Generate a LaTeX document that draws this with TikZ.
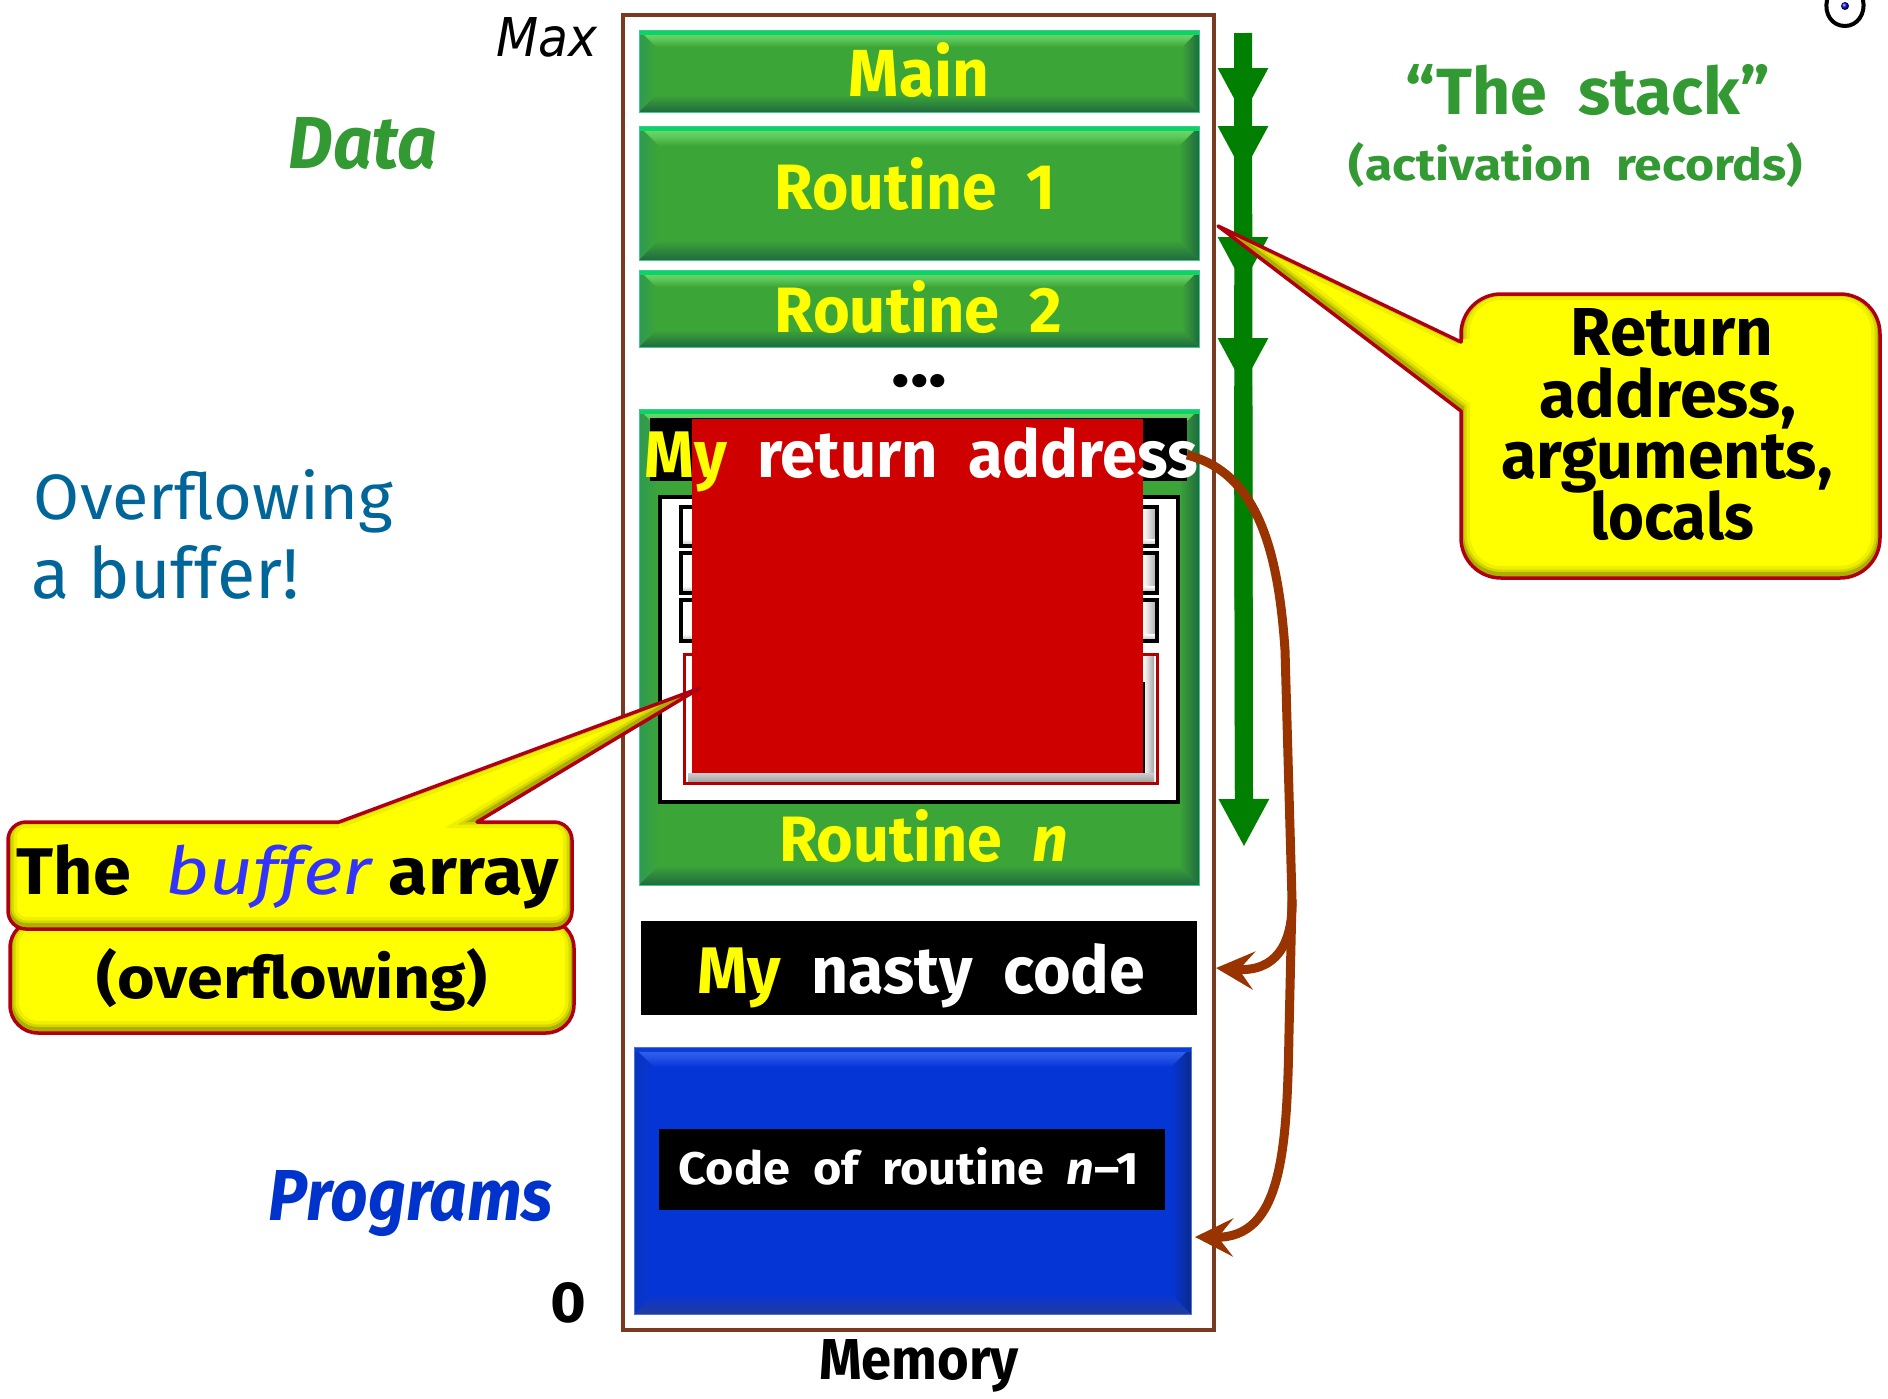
\documentclass[tikz,border=0pt]{standalone}
\usepackage{fontspec}
\usepackage{graphicx}
\usetikzlibrary{arrows.meta,shadings}
\setmainfont{Fira Sans}
\newfontfamily\verd{DejaVu Sans}
\definecolor{yel}{HTML}{FFFF00}
\definecolor{grbase}{HTML}{3CA538}
\definecolor{gredge}{HTML}{08D565}
\definecolor{grlight}{HTML}{74E274}
\definecolor{grleft}{HTML}{2E9A50}
\definecolor{grright}{HTML}{1F6B3F}
\definecolor{grbot}{HTML}{1F6B3F}
\definecolor{grline}{HTML}{40C890}
\definecolor{blbase}{HTML}{0635D6}
\definecolor{bledge}{HTML}{0A3CD8}
\definecolor{bllight}{HTML}{3A68F0}
\definecolor{blleft}{HTML}{0A35C0}
\definecolor{blright}{HTML}{0A2A8C}
\definecolor{blbot}{HTML}{213C9C}
\definecolor{blline}{HTML}{5070D8}
\definecolor{framec}{HTML}{7A3A20}
\definecolor{arrowg}{HTML}{007F00}
\definecolor{brownc}{HTML}{993300}
\definecolor{redc}{HTML}{CF0000}
\definecolor{stackg}{HTML}{339933}
\definecolor{tealc}{HTML}{006699}
\definecolor{progb}{HTML}{0033CC}
\definecolor{bufb}{HTML}{3333FF}
\definecolor{callb}{HTML}{B00010}
\tikzset{
  lab/.style={anchor=base,inner sep=0pt,outer sep=0pt},
  brownline/.style={draw=brownc,line width=9pt,-{Stealth[length=38pt,width=38pt,inset=15pt]}},
  greenshaft/.style={draw=arrowg,line width=18pt},
  greenarrow/.style={draw=arrowg,line width=18pt,-{Triangle[length=48pt,width=47pt]}},
}
\newcommand\txt[7]{\node[lab,#6] (#1) at (#2,#3) {\resizebox{#4pt}{#5pt}{#7}};}
\newcommand\bevelbox[6]{%
  \fill[#6base] (#1,#2) rectangle (#3,#4);
  \shade[left color=#6left,right color=#6base] (#1,#2) -- ({#1+#5},{#2+#5}) -- ({#1+#5},{#4-#5}) -- (#1,#4) -- cycle;
  \shade[left color=#6base,right color=#6right] (#3,#2) -- ({#3-#5},{#2+#5}) -- ({#3-#5},{#4-#5}) -- (#3,#4) -- cycle;
  \shade[top color=#6base,bottom color=#6bot] (#1,#4) -- (#3,#4) -- ({#3-#5},{#4-#5}) -- ({#1+#5},{#4-#5}) -- cycle;
  \shade[top color=#6light,bottom color=#6base,middle color=#6light!60!#6base] (#1,#2) -- (#3,#2) -- ({#3-#5},{#2+#5}) -- ({#1+#5},{#2+#5}) -- cycle;
  \fill[#6edge] (#1,#2) rectangle (#3,{#2+5});
  \draw[#6line,line width=1pt] (#1,#2) rectangle (#3,#4);
}
\newcommand\cellgray[4]{%
  \fill[white] (#1,#2) rectangle (#3,#4);
  \shade[left color=white,right color=gray!70] ({#3-14},#2) rectangle (#3,#4);
  \shade[top color=white,bottom color=gray!60] (#1,{#4-7}) rectangle (#3,#4);
  \draw[black,line width=4pt] (#1,#2) rectangle (#3,#4);
}
\newcommand\callout[1]{%
  \fill[yel] #1;
  \begin{scope}
    \clip #1;
    \begin{scope}[yshift=3pt]
      \draw[black!30!yel,opacity=.2,line width=18pt] #1;
      \draw[black!40!yel,opacity=.3,line width=11pt] #1;
      \draw[black!50!yel,opacity=.45,line width=6pt] #1;
    \end{scope}
  \end{scope}
  \draw[callb,line width=3.5pt,line join=round,line cap=round] #1;
}
\begin{document}
\begin{tikzpicture}[x=1pt,y=-1pt]
\useasboundingbox (0,0) rectangle (1888,1398);
\fill[white] (0,0) rectangle (1888,1398);
% memory frame
\draw[framec,line width=3.5pt] (623,15) rectangle (1214,1330);
% activation records
\bevelbox{639}{30}{1199}{112}{17}{gr}
\bevelbox{639}{126}{1199}{260}{20}{gr}
\bevelbox{639}{270}{1199}{347}{17}{gr}
\bevelbox{639}{409}{1199}{885}{20}{gr}
\txt{main}{919}{96}{140}{54}{text=yel,font=\bfseries}{Main}
\txt{rone}{915}{209}{280}{52}{text=yel,font=\bfseries}{Routine\ \ 1}
\txt{rtwo}{918.5}{332}{287}{52}{text=yel,font=\bfseries}{Routine\ \ 2}
\txt{dots}{919.5}{386}{56}{12}{text=black,font=\bfseries}{...}
% buffer
\fill[black] (650,418) rectangle (1187,481);
\draw[black,line width=4pt,fill=white] (660,497) rectangle (1178,802);
\cellgray{681}{507}{1157}{546}
\cellgray{681}{553}{1157}{593}
\cellgray{681}{600}{1157}{641}
\fill[white] (684,654) rectangle (1157,783);
\shade[left color=white,right color=gray!70] (1143,656) rectangle (1154,781);
\shade[top color=gray!40,bottom color=gray!70] (688,773) rectangle (1154,781);
\draw[redc!85!black,line width=3pt] (684,654) rectangle (1157,783);
\draw[black,line width=1.5pt] (1144,682) -- (1144,773);
\fill[redc] (692,419) rectangle (1143,773);
\txt{retaddr}{921.5}{477}{553}{50}{text=white,font=\bfseries}{\textcolor{yel}{My}\ \ return\ \ address}
\txt{rn}{923.5}{861}{289}{52}{text=yel,font=\bfseries}{Routine\ \ \textit{n}}
% nasty code
\node[fill=black,minimum width=556pt,minimum height=94pt,inner sep=0pt] (nasty) at (919,968) {};
\txt{nastyt}{921}{993}{448}{50}{text=white,font=\bfseries}{\textcolor{yel}{My}\ \ nasty\ \ code}
% program area
\bevelbox{634}{1047}{1191}{1314}{20}{bl}
\node[fill=black,minimum width=506pt,minimum height=81pt,inner sep=0pt] (codebox) at (912,1169.5) {};
\txt{codet}{909}{1184}{460}{37}{text=white,font=\bfseries}{Code\ \ of\ \ routine\ \ \textit{n}–1}
% green stack arrow
\coordinate (g0) at (1243,33);
\coordinate (g1) at (1243,116);
\coordinate (g2) at (1243,174);
\coordinate (g3) at (1243,285);
\coordinate (g4) at (1243,386);
\coordinate (g5) at (1244,847);
\draw[greenshaft] (g0) -- (1244,800);
\draw[greenarrow] (g0) -- (g1);
\draw[greenarrow] (g1) -- (g2);
\draw[greenarrow] (g2) -- (g3);
\draw[greenarrow] (g3) -- (g4);
\draw[greenarrow] (g4) -- (g5);
% brown connectors
\coordinate (b0) at (1187,455);
\coordinate (b1) at (1292,900);
\coordinate (t1) at (1216,968);
\coordinate (t2) at (1195,1237);
\draw[brownline] (b0) .. controls (1255,472) and (1278,545) .. (1285,650) -- (b1) .. controls (1293,945) and (1275,972) .. (t1);
\draw[brownline] (b1) -- (1289,1033) .. controls (1287,1150) and (1282,1238) .. (t2);
% callouts
\callout{(1461,342) [sharp corners] -- (1218,226) -- (1461,411) [rounded corners=40pt] -- (1461,578) -- (1880,578) -- (1880,294) -- (1461,294) -- (1461,342)}
\txt{ret1}{1672}{355}{202}{47}{text=black,font=\bfseries}{Return}
\txt{ret2}{1668}{417}{257}{50}{text=black,font=\bfseries}{address,}
\txt{ret3}{1667}{478}{331}{44}{text=black,font=\bfseries}{arguments,}
\txt{ret4}{1672}{539}{164}{49}{text=black,font=\bfseries}{locals}
\callout{[rounded corners=28pt] (10,920) -- (574,920) -- (574,1033) -- (10,1033) -- cycle}
\callout{(339,822) [sharp corners] -- (700,688) -- (477,822) [rounded corners=18pt] -- (572,822) -- (572,929) -- (8,929) -- (8,822) -- (339,822)}
\txt{buf1}{288}{894}{542}{50}{text=black,font=\bfseries}{\scalebox{.95}[1]{The}\ \ \textcolor{bufb}{\scalebox{1.06}[1]{\mdseries\itshape buffer}}\ array}
\txt{buf2}{292}{998}{390}{50}{text=black,font=\bfseries}{(overflowing)}
% side labels
\txt{maxl}{546.5}{56.5}{101}{39}{text=black,font=\verd\itshape}{Max}
\txt{datal}{363}{168}{148}{51}{text=stackg,font=\bfseries\itshape}{Data}
\txt{over1}{213.5}{519}{359}{50}{text=tealc}{Overflowing}
\txt{over2}{165.5}{598}{267}{53}{text=tealc}{a buffer!}
\txt{progl}{411}{1220}{284}{50}{text=progb,font=\bfseries\itshape}{Programs}
\txt{zero}{568}{1322}{36}{40}{text=black,font=\verd\bfseries}{0}
\txt{stack1}{1588}{114}{364}{50}{text=stackg,font=\bfseries}{“The\ \ stack”}
\txt{stack2}{1576}{180}{454}{38}{text=stackg,font=\bfseries}{(activation\ \ records)}
\txt{mem}{919}{1379}{200}{40}{text=black,font=\bfseries}{Memory}
% logo
\draw[black,line width=4pt] (1827,0) .. controls (1824,14) and (1832,26) .. (1845,26) .. controls (1857,26) and (1866,14) .. (1863,0);
\shade[ball color=blue!70!black] (1845,6) circle (4pt);
\end{tikzpicture}
\end{document}
